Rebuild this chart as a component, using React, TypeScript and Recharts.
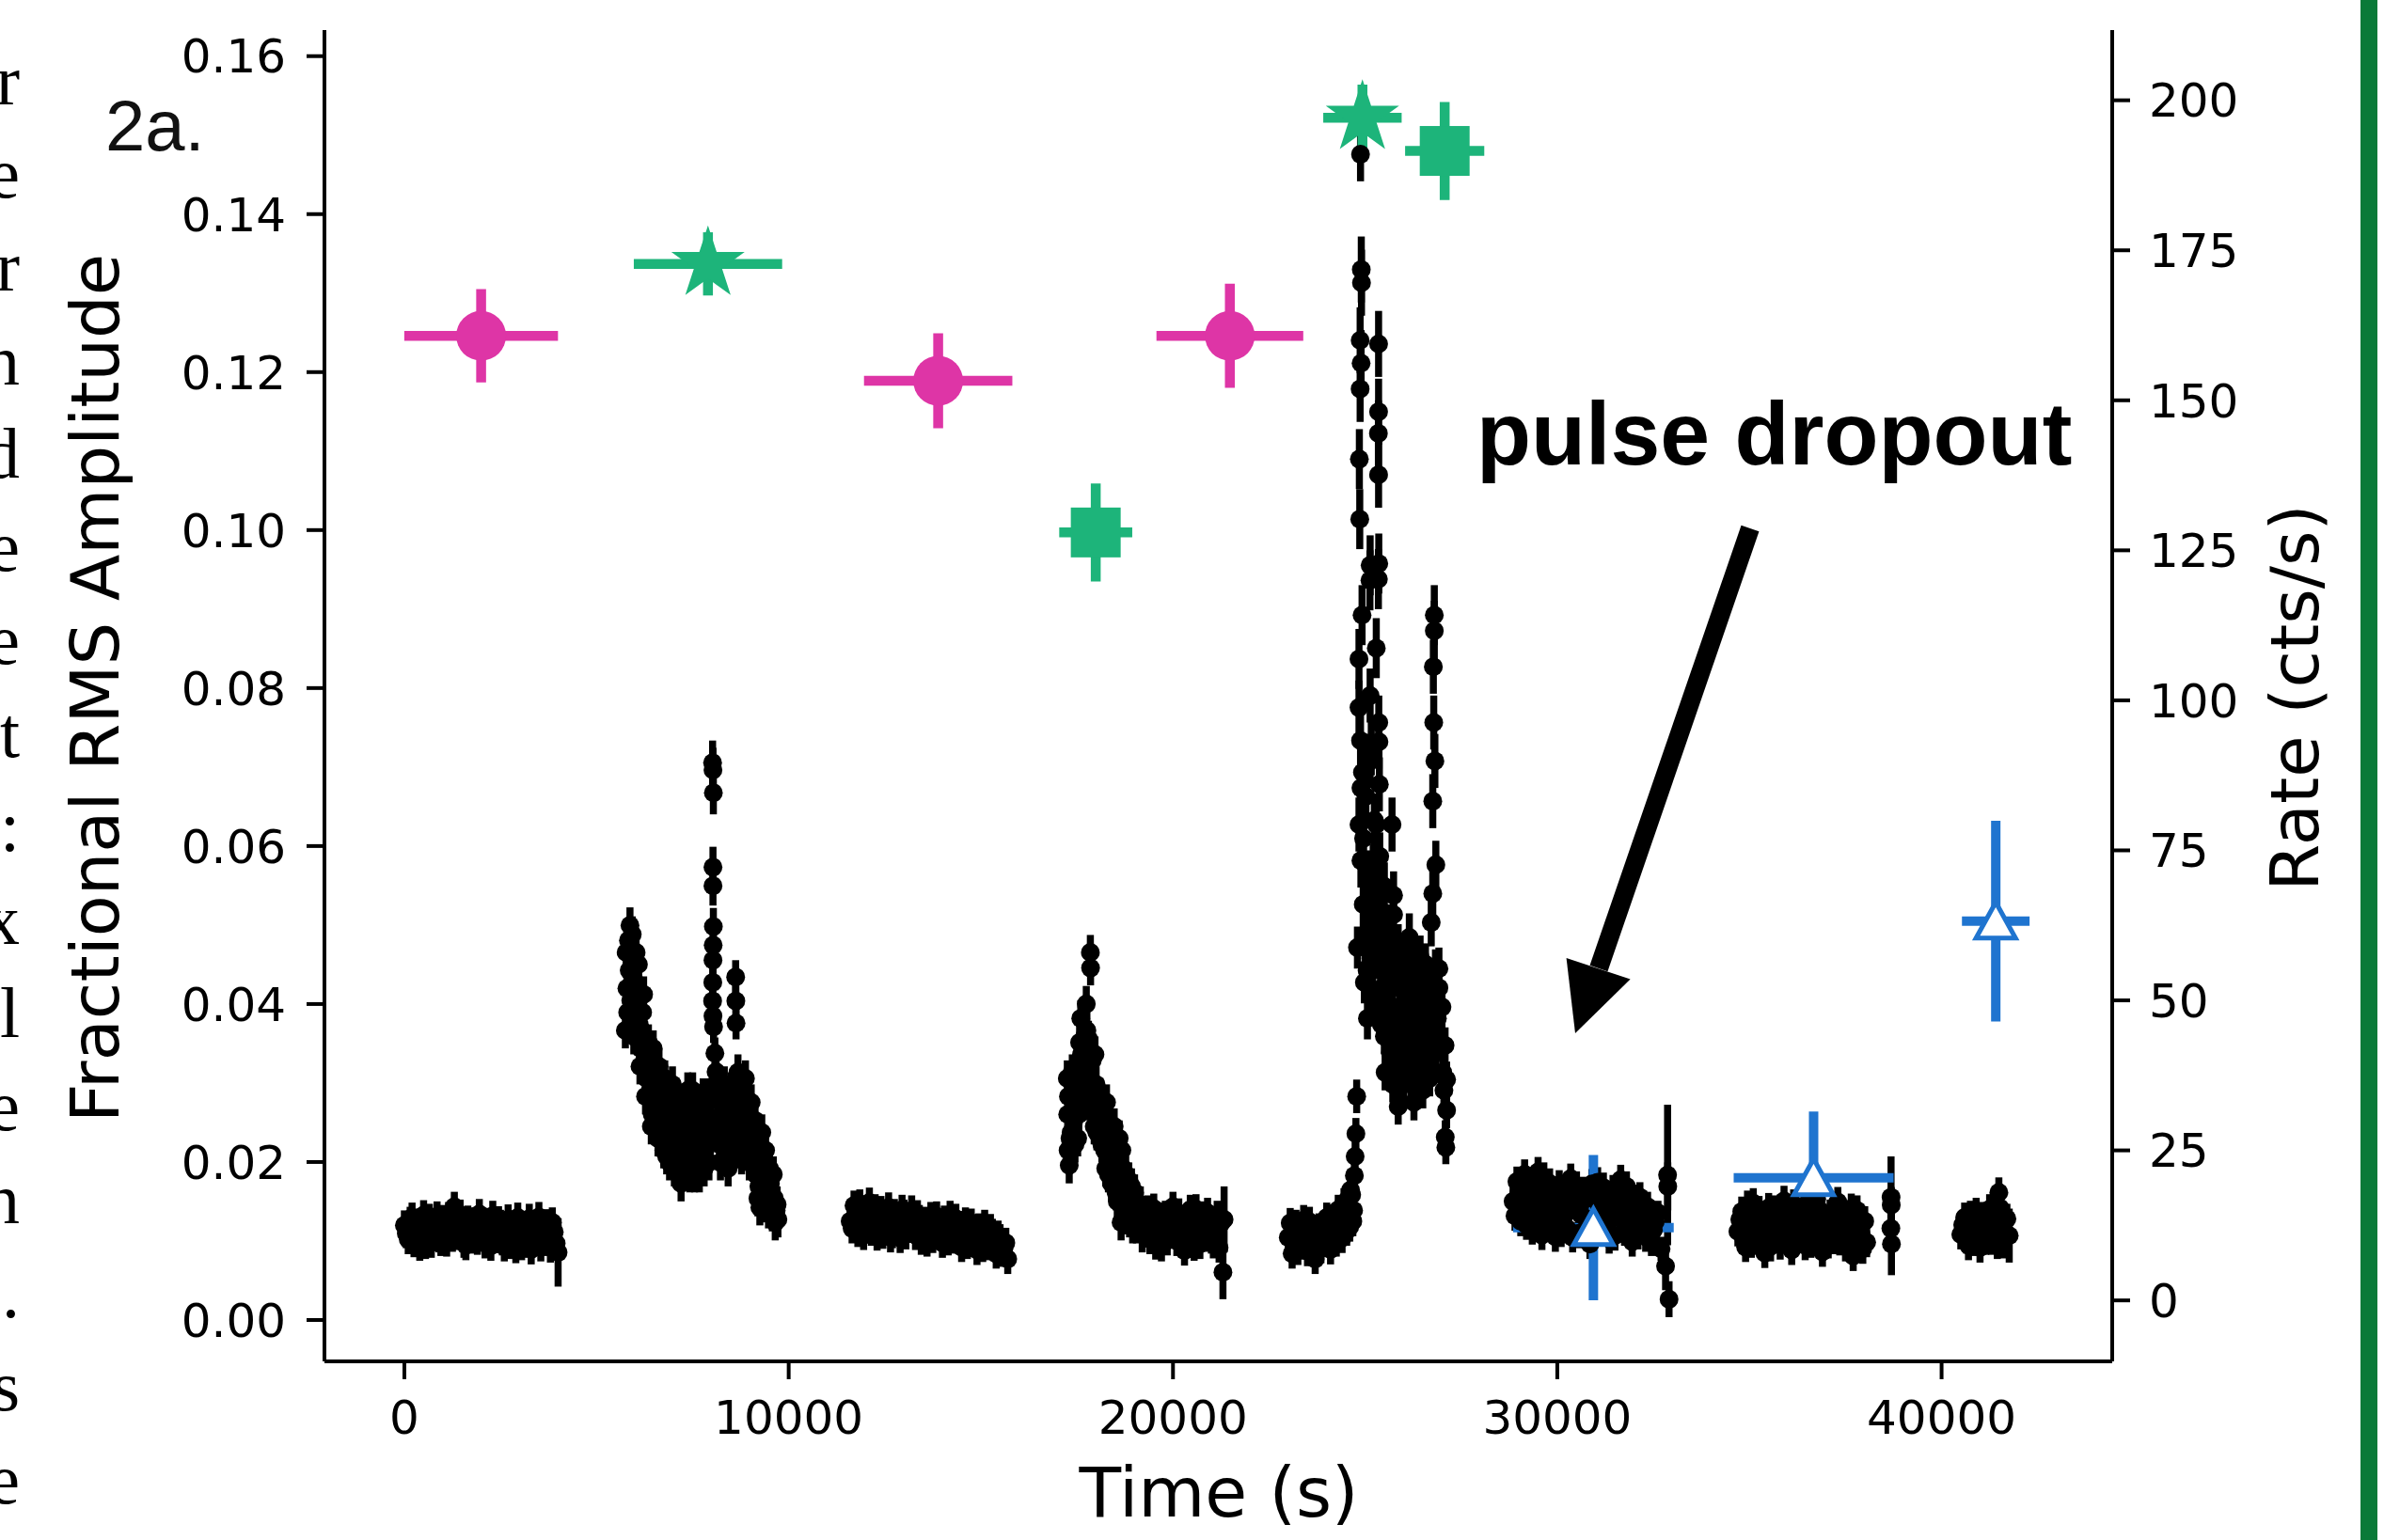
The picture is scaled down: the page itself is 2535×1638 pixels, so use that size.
import React from 'react';
import { ComposedChart, Scatter, XAxis, YAxis, ErrorBar } from 'recharts';

// fractional rms amplitude, left axis
const pinkTime = [1997, 13890, 21480];
const pinkTimeErr = [2000, 1930, 1910];
const pinkRms = [0.1246, 0.1189, 0.1246];
const pinkRmsErr = [0.0059, 0.006, 0.0066];

const starTime = [7900, 24930];
const starTimeErr = [1930, 1020];
const starRms = [0.1337, 0.1522];
const starRmsErr = [0.004, 0.0042];

const squareTime = [17990, 27070];
const squareTimeErr = [950, 1030];
const squareRms = [0.0997, 0.148];
const squareRmsErr = [0.0062, 0.0062];

const triTime = [30940, 36670, 41410];
const triTimeErr = [2090, 2080, 880];
const triRms = [0.0117, 0.018, 0.0505];
const triRmsErr = [0.0092, 0.0084, 0.0127];

// count rate light curve, right axis: [time, rate]
const segA = [[0,12.5],[100,10.2],[200,13.8],[300,11.0],[400,9.1],[500,14.2],[600,11.8],[700,9.6],[800,12.9],[900,10.5],[1000,13.4],[1100,9.8],[1200,12.1],[1300,15.6],[1400,10.9],[1500,12.4],[1600,9.2],[1700,11.7],[1800,13.0],[1900,10.1],[2000,12.2],[2100,9.5],[2200,11.3],[2300,14.1],[2400,10.4],[2500,12.6],[2600,9.0],[2700,13.5],[2800,10.8],[2900,8.7],[3000,11.9],[3100,9.6],[3200,12.3],[3300,8.5],[3400,10.9],[3500,13.9],[3600,9.9],[3700,12.7],[3800,8.8],[3900,11.4]];
const segA2 = [[50,11.2],[150,13.1],[250,9.7],[350,12.8],[450,11.5],[550,9.4],[650,13.6],[750,11.1],[850,14.0],[950,9.9],[1050,11.8],[1150,13.9],[1250,10.6],[1350,12.9],[1450,14.3],[1550,9.6],[1650,13.3],[1750,10.3],[1850,11.6],[1950,14.4],[2050,10.8],[2150,12.9],[2250,9.1],[2350,11.9],[2450,13.2],[2550,10.0],[2650,11.4],[2750,9.4],[2850,12.5],[2950,13.8],[3050,9.2],[3150,11.1],[3250,13.6],[3350,10.4],[3450,12.0],[3550,9.0],[3650,11.5],[3750,10.1],[3850,13.0],[3950,9.5]];
const segB = [[5750,45],[5790,52],[5830,60],[5870,62.5],[5910,57],[5950,54],[5990,49],[6030,58],[6070,51],[6110,46],[6150,42],[6200,48],[6250,40],[6300,37],[6350,43],[6400,35],[6450,31],[6500,38],[6550,33],[6600,27],[6650,36],[6700,30],[6750,25],[6800,33],[6850,28],[6900,23],[6950,31],[7000,26],[7050,34],[7100,24],[7150,29],[7200,19.5],[7250,27],[7300,32],[7350,22],[7400,30],[7450,25],[7500,35],[7550,21],[7600,28],[7650,24],[7700,31],[7750,26],[7800,22],[7850,29],[7900,34],[7950,27],[8100,36],[8150,30],[8200,26],[8250,33],[8300,28],[8350,24],[8400,31],[8450,27],[8500,35],[8550,29],[8600,25],[8680,38],[8700,32],[8750,27],[8800,34],[8850,29],[8900,25],[8950,31],[9000,27],[9050,29],[9100,24],[9150,21],[9200,17],[9250,15.5],[9300,28],[9350,19],[9400,25],[9450,17],[9500,22],[9550,18],[9600,21],[9650,13],[9700,16]];
const segB2 = [[5770,58],[5810,48],[5850,55],[5890,50],[5930,61],[5970,44],[6010,53],[6050,47],[6090,56],[6130,39],[6175,45],[6225,51],[6275,34],[6325,41],[6375,38],[6425,29],[6475,42],[6525,36],[6575,30],[6625,39],[6675,33],[6725,28],[6775,37],[6825,24],[6875,32],[6925,27],[6975,36],[7025,22],[7075,30],[7125,27],[7175,33],[7225,23],[7275,30],[7325,26],[7375,35],[7425,21],[7475,29],[7525,32],[7575,25],[7625,33],[7675,21],[7725,28],[7775,34],[7825,25],[7875,31],[7925,23],[7975,30],[8125,28],[8175,34],[8225,23],[8275,30],[8325,36],[8375,27],[8425,22],[8475,32],[8525,25],[8575,33],[8650,30],[8725,36],[8775,24],[8825,31],[8875,37],[8925,27],[8975,23],[9025,33],[9075,27],[9125,30],[9175,25],[9225,19],[9275,23],[9325,16],[9375,22],[9425,20],[9475,15],[9525,19.5],[9575,14.5],[9625,17],[9675,15],[9720,13.5]];
const segC = [[11600,13.2],[11700,15.8],[11800,11.4],[11900,14.6],[12000,12.0],[12100,16.3],[12200,13.1],[12300,10.8],[12400,14.9],[12500,12.4],[12600,15.5],[12700,11.2],[12800,13.8],[12900,10.4],[13000,14.3],[13100,12.1],[13200,15.0],[13300,10.9],[13400,13.4],[13500,11.5],[13600,9.8],[13700,13.9],[13800,11.0],[13900,12.8],[14000,9.6],[14100,12.2],[14200,14.1],[14300,10.3],[14400,11.7],[14500,8.9],[14600,13.0],[14700,10.1],[14800,11.9],[14900,8.4],[15000,10.7],[15100,12.6],[15200,9.2],[15300,11.1],[15400,7.8],[15500,10.2],[15600,8.6],[15700,6.9]];
const segC2 = [[11650,12.0],[11750,14.2],[11850,16.0],[11950,10.9],[12050,13.7],[12150,11.6],[12250,15.2],[12350,12.9],[12450,11.1],[12550,13.6],[12650,10.5],[12750,14.4],[12850,12.2],[12950,15.1],[13050,11.0],[13150,13.5],[13250,12.3],[13350,14.2],[13450,10.1],[13550,13.1],[13650,11.8],[13750,10.4],[13850,14.0],[13950,11.3],[14050,13.3],[14150,10.0],[14250,11.9],[14350,13.6],[14450,10.6],[14550,12.4],[14650,9.4],[14750,12.8],[14850,10.9],[14950,12.0],[15050,8.9],[15150,10.5],[15250,11.9],[15350,9.0],[15450,10.8],[15550,8.1],[15650,9.6]];
const segD = [[17250,37],[17260,31],[17270,25],[17300,22.5],[17350,28],[17400,34],[17450,26],[17500,39],[17550,31],[17600,47.0],[17620,41],[17650,36],[17700,44],[17744,49.4],[17780,39],[17800,43.6],[17880,33],[17900,40],[17950,29],[18000,36],[18050,31],[18100,34],[18150,26],[18200,30],[18250,22],[18300,28],[18350,24],[18400,19.5],[18450,26],[18500,21],[18550,16.5],[18600,27],[18650,13],[18700,22],[18750,18.5],[18800,14],[18850,20],[18900,16],[18950,12.5],[19000,18],[19100,14.5],[19200,11]];
const segD2 = [[17280,34],[17320,27],[17380,38],[17420,30],[17480,35],[17520,27],[17570,43],[17670,40],[17720,33],[17760,45],[17820,37],[17920,35],[17970,41],[18020,28],[18070,33],[18120,29],[18170,31],[18220,25],[18270,33],[18320,21],[18370,27],[18420,23],[18470,29],[18520,18],[18570,24],[18620,20],[18670,25],[18720,15.5],[18770,21],[18820,17],[18870,13.5],[18920,19],[18970,15],[19050,12.5],[19150,16],[19220,13]];
const segDflat = [[19300,13.5],[19400,10.2],[19500,15.3],[19600,11.8],[19700,9.0],[19800,14.1],[19900,12.0],[20000,15.6],[20100,9.9],[20200,12.7],[20300,8.3],[20400,13.9],[20500,11.1],[20600,15.2],[20700,9.4],[20800,12.5],[20900,14.6],[21000,10.3],[21100,13.2],[21200,8.8],[21250,12.9]];
const segDflat2 = [[19250,12.4],[19350,15.0],[19450,11.4],[19550,9.3],[19650,13.8],[19750,12.1],[19850,10.0],[19950,13.4],[20050,11.2],[20150,14.5],[20250,10.7],[20350,12.3],[20450,15.1],[20550,9.1],[20650,12.6],[20750,14.0],[20850,10.6],[20950,12.2],[21050,9.5],[21150,14.1]];
const segE = [[23000,10.5],[23100,7.8],[23200,12.6],[23300,9.3],[23400,13.4],[23500,8.2],[23600,11.1],[23700,6.9],[23800,12.0],[23900,9.7],[24000,13.8],[24100,8.5],[24200,11.9],[24300,15.1],[24400,10.4],[24500,14.2],[24550,16.8],[24600,12.3],[24650,17.6],[24700,15.0]];
const segE2 = [[23050,12.9],[23150,10.1],[23250,8.4],[23350,11.9],[23450,10.3],[23550,13.1],[23650,9.5],[23750,11.6],[23850,8.7],[23950,12.4],[24050,10.6],[24150,13.5],[24250,9.8],[24350,12.8],[24450,16.2],[24520,11.6],[24580,14.9],[24620,18.4],[24680,13.2]];
const segF = [[28850,16.5],[28950,19.8],[29050,13.2],[29150,21.0],[29250,15.4],[29350,11.8],[29450,18.6],[29550,14.0],[29650,20.5],[29750,12.3],[29850,17.1],[29950,10.6],[30050,19.2],[30150,14.8],[30250,12.0],[30350,20.3],[30450,16.0],[30550,11.2],[30650,18.1],[30750,13.6],[30850,9.4],[30950,16.9],[31050,19.7],[31150,12.7],[31250,15.5],[31350,10.3],[31450,18.4],[31550,13.9],[31650,20.1],[31750,11.6],[31850,16.4],[31950,9.8],[32050,14.3],[32150,17.2],[32250,12.8],[32350,15.6],[32450,9.9],[32550,13.1]];
const segF2 = [[28900,14.1],[29000,17.8],[29100,19.3],[29200,12.6],[29300,17.9],[29400,14.7],[29500,21.4],[29600,10.9],[29700,16.2],[29800,19.5],[29900,13.7],[30000,15.9],[30100,11.4],[30200,18.0],[30300,15.2],[30400,10.5],[30500,19.0],[30600,14.4],[30700,16.8],[30800,11.9],[30900,19.4],[31000,13.1],[31100,15.7],[31200,18.8],[31300,12.1],[31400,16.0],[31500,10.8],[31600,17.2],[31700,14.6],[31800,19.0],[31900,12.9],[32000,16.8],[32100,11.0],[32200,15.0],[32300,10.6],[32400,13.9],[32500,11.7]];
const segG = [[34700,11.5],[34800,14.8],[34900,8.9],[35000,12.6],[35100,16.2],[35200,10.1],[35300,13.7],[35400,7.9],[35500,15.4],[35600,11.0],[35700,13.9],[35800,9.3],[35900,16.6],[36000,12.2],[36100,8.4],[36200,14.5],[36300,10.7],[36400,13.1],[36500,16.1],[36600,9.6],[36700,12.9],[36800,15.2],[36900,8.1],[37000,11.8],[37100,14.3],[37200,10.2],[37300,16.4],[37400,12.5],[37500,9.0],[37600,13.6],[37700,7.4],[37800,15.0],[37900,11.3],[38000,13.2],[38050,9.7]];
const segG2 = [[34750,13.5],[34850,10.4],[34950,15.8],[35050,9.6],[35150,12.3],[35250,14.9],[35350,11.1],[35450,13.0],[35550,9.0],[35650,15.0],[35750,10.6],[35850,12.8],[35950,14.2],[36050,10.0],[36150,16.0],[36250,11.9],[36350,13.8],[36450,9.2],[36550,14.0],[36650,11.4],[36750,16.9],[36850,10.4],[36950,13.4],[37050,9.5],[37150,12.3],[37250,15.6],[37350,10.0],[37450,14.2],[37550,11.7],[37650,15.3],[37750,10.8],[37850,12.9],[37950,8.6]];
const segH = [[40500,11.0],[40600,13.8],[40700,9.2],[40800,12.4],[40900,14.6],[41000,8.8],[41100,11.9],[41200,13.3],[41300,10.1],[41400,14.9],[41490,18.0],[41550,12.2],[41600,9.5],[41700,13.6]];
const segH2 = [[40550,12.6],[40650,10.3],[40750,14.1],[40850,9.9],[40950,11.7],[41050,13.9],[41150,10.1],[41250,15.2],[41350,12.0],[41450,9.4],[41520,15.4],[41650,11.3]];
const flatErr = 2.5;
const decayErr = 3.0;

// single points with their own errors: [time, rate, error]
const rateSingles = [
  [4000,8.0,5.7],
  [8020,89.6,3.7],[8030,88.4,3.7],[8040,84.6,3.6],[8030,72.2,3.4],[8030,69.1,3.3],[8040,62.3,3.1],[8035,59.2,3.1],[8030,56.7,3.0],[8025,53.0,2.9],[8020,49.9,2.8],[8030,47.4,2.8],[8045,45.6,2.7],[8080,41.2,2.6],[8110,38.1,2.5],[8060,34.4,2.4],
  [8620,53.9,2.8],[8625,49.9,2.7],[8630,46.2,2.7],
  [17850,58.0,2.9],[17855,55.4,2.9],[21300,4.7,4.5],[21330,13.5,5.5],
  [24720,20.8,2.4],[24740,24.0,2.5],[24760,27.8,2.6],[24780,34.0,2.8],[24800,58.8,3.5],
  [32620,14.6,2],[32700,8.6,2],[32870,20.9,11.7],[32875,19.0,4],[32818,5.7,4],[32908,0.2,3],
  [38685,17.2,6.8],[38690,15.9,3],[38680,12.0,3],[38695,9.4,5.2],[41760,10.8,4.5],
];

// the big flare: [time, rate, error]
const flare = [
  [24880,191.0,4.5],[24900,171.8,5.5],[24905,169.6,5.5],[24870,160.0,5.5],[24895,156.2,5.5],[24870,151.9,5.5],[24850,140.2,5],[24860,130.2,5],[24920,114.2,5],[24840,106.9,5],[24840,98.8,4.5],[24880,93.3,4.5],[24890,85.4,4.5],[24840,79.3,4.5],[24890,73.3,4.5],
  [25350,159.4,5.5],[25350,148.1,5.5],[25345,144.5,5.5],[25350,137.6,5.5],[25355,122.8,5],[25345,120.2,5],[25290,108.7,5],[25355,96.3,4.5],[25360,93.1,4.5],[25370,86.0,4.5],[25290,79.3,4.5],
  [25130,122.5,5],[25125,120.0,5],[25130,100.8,4.5],[25130,89.9,4.5],[25210,72.0,4],[25210,67.5,4],[25210,63.7,4],
  [25700,79.3,4.5],[25740,67.5,4],[25740,64.3,4],[26150,60.5,4],
  [24930,88,4.5],[24960,77,4.5],[25020,84,4.5],[25080,71,4],[25160,92,4.5],[25240,80,4.5],[25320,68,4],[25380,74,4],[25420,63,4],[25500,69,4],[25560,62,4],
  [24950,66,4],[25000,60,4],[25050,55,3.5],[25100,62,4],[25150,57,3.5],[25200,51,3.5],[25250,58,3.5],[25300,49,3.5],[24980,53,3.5],[25060,47,3.5],
  [25450,52.1,3.5],[25530,47.0,3.5],[25660,41.3,3],[25860,32.3,3],[26270,33.0,3],[26020,48.3,3.5],[26350,43.2,3],[26600,38.1,3],[26190,36.8,3],[26600,53.4,3.5],[26430,57.3,3.5],[26920,52.1,3.5],[25860,59.2,3.5],[26190,50.9,3.5],[25620,59.8,3.5],[26350,35.5,3],
  [25400,55,3.5],[25500,44,3],[25580,50,3.5],[25650,54,3.5],[25750,46,3],[25800,38,3],[25900,52,3.5],[25950,43,3],[26000,36,3],[26050,55,3.5],[26100,45,3],[26200,40,3],[26250,48,3],[26300,53,3.5],[26400,39,3],[26450,46,3],[26500,35,3],[26550,49,3],[26650,44,3],[26700,40,3],[26750,51,3.5],[26850,45,3],
  [25420,46,3],[25480,58,3.5],[25520,38,3],[25560,53,3.5],[25600,45,3],[25680,49,3],[25720,36,3],[25780,55,3.5],[25830,43,3],[25880,47,3],[25920,39,3],[25980,56,3.5],[26030,41,3],[26080,50,3],[26130,38,3],[26170,54,3.5],[26230,44,3],[26280,57,3.5],[26320,37,3],[26380,50,3],[26420,42,3],[26470,53,3.5],[26520,41,3],[26570,56,3.5],[26620,47,3],[26680,37,3],[26720,48,3],[26770,42,3],[26830,55,3.5],[26880,47,3],[26950,43,3],[27020,38,3],[27050,35,3],
  [26800,114.2,5],[26800,111.6,5],[26775,105.6,4.5],[26785,96.3,4.5],[26815,89.9,4.5],[26760,83.2,4.5],[26840,72.6,4],[26760,67.8,4],[26720,63.0,4],
  [26920,55.3,3.5],[27000,48.9,3.5],[27080,42.5,3],[27120,36.8,3],[27120,31.7,3],[27085,27.2,2.8],[27100,25.5,2.8],
];

const timeTicks = [0, 10000, 20000, 30000, 40000];
const rmsTicks = [0, 0.02, 0.04, 0.06, 0.08, 0.1, 0.12, 0.14, 0.16];
const rateTicks = [0, 25, 50, 75, 100, 125, 150, 175, 200];

const timeDomain = [-2080, 44440];
const rmsDomain = [-0.00524, 0.1633];
const rateDomain = [-10.16, 211.7];

const marginLetters = ['r', 'e', 'r', 'n', 'd', 'e', 'e', 't', ':', 'x', 'l', 'e', 'n', '.', 's', 'e'];

const PINK = '#de35a6';
const GREEN = '#1db47a';
const BLUE = '#1f74cf';

const withErr = (rows: number[][], err: number) => rows.map(([t, y]) => ({ t, y, ey: err }));
const rateData = [
  ...withErr(segA, flatErr),
  ...withErr(segA2, flatErr),
  ...withErr(segB, decayErr),
  ...withErr(segB2, decayErr),
  ...withErr(segC, flatErr),
  ...withErr(segC2, flatErr),
  ...withErr(segD, decayErr),
  ...withErr(segD2, decayErr),
  ...withErr(segDflat, flatErr),
  ...withErr(segDflat2, flatErr),
  ...withErr(segE, flatErr),
  ...withErr(segE2, flatErr),
  ...withErr(segF, flatErr),
  ...withErr(segF2, flatErr),
  ...withErr(segG, flatErr),
  ...withErr(segG2, flatErr),
  ...withErr(segH, flatErr),
  ...withErr(segH2, flatErr),
  ...rateSingles.map(([t, y, e]) => ({ t, y, ey: e })),
  ...flare.map(([t, y, e]) => ({ t, y, ey: e })),
];

const rmsRows = (time: number[], tErr: number[], rms: number[], rErr: number[]) =>
  time.map((t, i) => ({ t, y: rms[i], et: tErr[i], ey: rErr[i] }));

const pinkData = rmsRows(pinkTime, pinkTimeErr, pinkRms, pinkRmsErr);
const starData = rmsRows(starTime, starTimeErr, starRms, starRmsErr);
const squareData = rmsRows(squareTime, squareTimeErr, squareRms, squareRmsErr);
const triData = rmsRows(triTime, triTimeErr, triRms, triRmsErr);

const BlackDot = (p: any) => <circle cx={p.cx} cy={p.cy} r={10} fill="#000" />;
const PinkDot = (p: any) => <circle cx={p.cx} cy={p.cy} r={26.5} fill={PINK} />;
const GreenSquare = (p: any) => <rect x={p.cx - 26.5} y={p.cy - 26.5} width={53} height={53} fill={GREEN} />;
const GreenStar = (p: any) => {
  const R = 41;
  const r = R * 0.382;
  const pts: string[] = [];
  for (let k = 0; k < 10; k++) {
    const a = -Math.PI / 2 + (k * Math.PI) / 5;
    const rr = k % 2 === 0 ? R : r;
    pts.push(`${p.cx + rr * Math.cos(a)},${p.cy + rr * Math.sin(a)}`);
  }
  return <polygon points={pts.join(' ')} fill={GREEN} />;
};
const OpenTriangle = (p: any) => (
  <polygon
    points={`${p.cx},${p.cy - 20} ${p.cx - 21},${p.cy + 18} ${p.cx + 21},${p.cy + 18}`}
    fill="#fff"
    stroke={BLUE}
    strokeWidth={5}
    strokeLinejoin="miter"
  />
);

const tickFont = { fontSize: 50, fill: '#000', fontFamily: 'DejaVu Sans' };
const axisStroke = { stroke: '#000', strokeWidth: 4 };

export default function App() {
  return (
    <div style={{ position: 'absolute', left: 0, top: 0, width: 2535, height: 1638, background: '#fff' }}>
      <ComposedChart width={2535} height={1638} margin={{ top: 32, right: 139, bottom: 90, left: 195 }}>
        <XAxis
          xAxisId="bottom"
          dataKey="t"
          type="number"
          domain={timeDomain}
          allowDataOverflow
          ticks={timeTicks}
          height={100}
          tick={tickFont}
          tickSize={19}
          tickMargin={22}
          tickLine={axisStroke}
          axisLine={axisStroke}
        />
        <XAxis
          xAxisId="top"
          orientation="top"
          dataKey="t"
          type="number"
          domain={timeDomain}
          allowDataOverflow
          height={0}
          tick={false}
          tickLine={false}
          axisLine={axisStroke}
        />
        <YAxis
          yAxisId="rms"
          dataKey="y"
          type="number"
          domain={rmsDomain}
          allowDataOverflow
          ticks={rmsTicks}
          tickFormatter={(v: number) => v.toFixed(2)}
          width={150}
          tick={tickFont}
          tickSize={19}
          tickMargin={22}
          tickLine={axisStroke}
          axisLine={axisStroke}
        />
        <YAxis
          yAxisId="rate"
          orientation="right"
          dataKey="y"
          type="number"
          domain={rateDomain}
          allowDataOverflow
          ticks={rateTicks}
          width={150}
          tick={tickFont}
          tickSize={19}
          tickMargin={20}
          tickLine={axisStroke}
          axisLine={axisStroke}
        />

        <Scatter xAxisId="bottom" yAxisId="rate" data={rateData} dataKey="y" shape={BlackDot} isAnimationActive={false}>
          <ErrorBar dataKey="ey" direction="y" width={0} stroke="#000" strokeWidth={7.5} isAnimationActive={false} />
        </Scatter>

        <Scatter xAxisId="bottom" yAxisId="rms" data={triData} dataKey="y" shape={OpenTriangle} isAnimationActive={false}>
          <ErrorBar dataKey="et" direction="x" width={0} stroke={BLUE} strokeWidth={10} isAnimationActive={false} />
          <ErrorBar dataKey="ey" direction="y" width={0} stroke={BLUE} strokeWidth={10} isAnimationActive={false} />
        </Scatter>
        <Scatter xAxisId="bottom" yAxisId="rms" data={pinkData} dataKey="y" shape={PinkDot} isAnimationActive={false}>
          <ErrorBar dataKey="et" direction="x" width={0} stroke={PINK} strokeWidth={10.5} isAnimationActive={false} />
          <ErrorBar dataKey="ey" direction="y" width={0} stroke={PINK} strokeWidth={10.5} isAnimationActive={false} />
        </Scatter>
        <Scatter xAxisId="bottom" yAxisId="rms" data={starData} dataKey="y" shape={GreenStar} isAnimationActive={false}>
          <ErrorBar dataKey="et" direction="x" width={0} stroke={GREEN} strokeWidth={10.5} isAnimationActive={false} />
          <ErrorBar dataKey="ey" direction="y" width={0} stroke={GREEN} strokeWidth={10.5} isAnimationActive={false} />
        </Scatter>
        <Scatter xAxisId="bottom" yAxisId="rms" data={squareData} dataKey="y" shape={GreenSquare} isAnimationActive={false}>
          <ErrorBar dataKey="et" direction="x" width={0} stroke={GREEN} strokeWidth={10.5} isAnimationActive={false} />
          <ErrorBar dataKey="ey" direction="y" width={0} stroke={GREEN} strokeWidth={10.5} isAnimationActive={false} />
        </Scatter>
      </ComposedChart>

      <svg width={2535} height={1638} style={{ position: 'absolute', left: 0, top: 0, pointerEvents: 'none' }}>
        {/* clipped text of the neighbouring column, as in the source page */}
        {marginLetters.map((ch, i) => (
          <text key={i} x={21} y={111 + i * 99.2} textAnchor="end" fontSize={76} fontFamily="Liberation Serif" fill="#000">
            {ch}
          </text>
        ))}
        <text x={112} y={160} fontSize={76} fontFamily="Liberation Sans" fill="#111">2a.</text>
        <text transform="translate(126, 732) rotate(-90)" textAnchor="middle" fontSize={72} fontFamily="DejaVu Sans" fill="#000">
          Fractional RMS Amplitude
        </text>
        <text transform="translate(2465, 742) rotate(-90)" textAnchor="middle" fontSize={72} fontFamily="DejaVu Sans" fill="#000">
          Rate (cts/s)
        </text>
        <text x={1296} y={1613} textAnchor="middle" fontSize={73} fontFamily="DejaVu Sans" fill="#000">Time (s)</text>
        <text x={1570} y={494} fontSize={95} fontWeight="bold" fontFamily="Liberation Sans" fill="#000">pulse dropout</text>
        <line x1={1861} y1={562} x2={1700} y2={1030} stroke="#000" strokeWidth={20} />
        <polygon points="1675,1099 1665.6,1019 1733.6,1041.6" fill="#000" />
        <rect x={2510} y={0} width={18} height={1638} fill="#0a7a38" />
      </svg>
    </div>
  );
}
